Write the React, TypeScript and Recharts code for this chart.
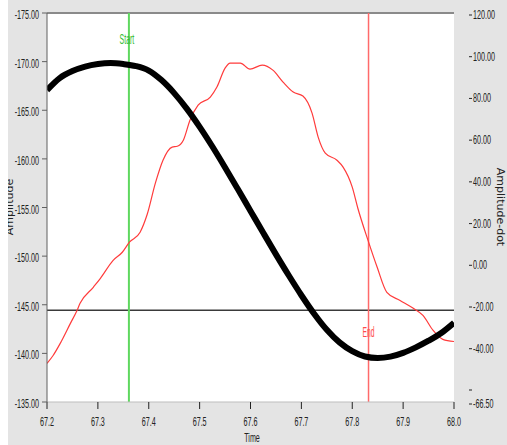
import React from 'react';
import { LineChart, Line, XAxis, YAxis, CartesianGrid, ReferenceLine } from 'recharts';

const timeTicks = [67.2, 67.3, 67.4, 67.5, 67.6, 67.7, 67.8, 67.9, 68.0];
const ampTicks = [-175, -170, -165, -160, -155, -150, -145, -140, -135];
const dotTicks = [120, 100, 80, 60, 40, 20, 0, -20, -40, -66.5];

// Amplitude (left axis)
const ampTime = [
  67.2, 67.225, 67.25, 67.275, 67.3, 67.325, 67.35, 67.375, 67.4, 67.425, 67.45,
  67.475, 67.5, 67.525, 67.55, 67.575, 67.6, 67.625, 67.65, 67.675, 67.7, 67.725,
  67.75, 67.775, 67.8, 67.825, 67.85, 67.875, 67.9, 67.925, 67.95, 67.975, 68.0,
];
const ampValues = [
  -167.07, -168.31, -169.03, -169.49, -169.75, -169.85, -169.75, -169.54, -169.08, -168.1, -166.76,
  -165.14, -163.29, -161.27, -159.12, -156.9, -154.65, -152.4, -150.18, -148.03, -145.98, -144.08,
  -142.43, -141.13, -140.23, -139.68, -139.52, -139.66, -140.05, -140.62, -141.3, -142.1, -143.15,
];

// Amplitude-dot (right axis)
const dotTime = [
  67.2, 67.212, 67.226, 67.246, 67.259, 67.265, 67.291, 67.305, 67.33, 67.348, 67.362,
  67.383, 67.397, 67.413, 67.428, 67.446, 67.456, 67.468, 67.481, 67.497, 67.521, 67.534,
  67.55, 67.56, 67.58, 67.599, 67.623, 67.644, 67.664, 67.684, 67.703, 67.721, 67.733,
  67.747, 67.77, 67.782, 67.8, 67.811, 67.831, 67.849, 67.868, 67.894, 67.92, 67.939,
  67.959, 67.978, 68.0,
];
const dotValues = [
  -48.0, -44.2, -38.4, -28.8, -22.6, -19.2, -11.5, -7.2, 1.4, 5.3, 10.1,
  14.9, 23.5, 38.4, 49.4, 55.7, 56.1, 59.0, 68.6, 75.8, 79.7, 84.5,
  93.6, 96.0, 96.0, 93.1, 95.0, 92.6, 86.9, 82.1, 80.2, 72.0, 60.5,
  52.8, 49.4, 46.1, 36.5, 26.4, 11.0, -1.9, -13.9, -17.8, -21.6, -25.0,
  -32.2, -36.5, -37.5,
];

const startTime = 67.361;
const endTime = 67.832;
const cursorLevel = -22.5;

const ampData = ampTime.map((t, i) => ({ time: t, amplitude: ampValues[i] }));
const dotData = dotTime.map((t, i) => ({ time: t, amplitudeDot: dotValues[i] }));

const condFont = '"Liberation Sans", Arial, sans-serif';
const titleFont = '"DejaVu Sans", Verdana, sans-serif';

// narrow LabVIEW-like text: regular sans squeezed horizontally
const CondText = ({ x, y, anchor = 'start', size = 12, sx = 0.6, fill = '#222', children }: any) => (
  <text
    transform={`translate(${x} ${y}) scale(${sx} 1)`}
    textAnchor={anchor}
    fontSize={size}
    fontFamily={condFont}
    fill={fill}
  >
    {children}
  </text>
);

const BottomTick = ({ x, y, payload }: any) => (
  <CondText x={x} y={y + 9} anchor="middle">
    {Number(payload.value).toFixed(1)}
  </CondText>
);

const LeftTick = ({ x, y, payload }: any) => (
  <CondText x={x} y={y + 6} anchor="end">
    {Number(payload.value).toFixed(2)}
  </CondText>
);

const RightTick = ({ x, y, payload }: any) => (
  <g>
    <line x1={x + 15} x2={x + 18} y1={y + 2} y2={y + 2} stroke="#222" strokeWidth={1} />
    {payload.value === -66.5 && (
      <line x1={x + 15} x2={x + 18} y1={y - 12} y2={y - 12} stroke="#222" strokeWidth={1} />
    )}
    <CondText x={x + 19} y={y + 6}>
      {Number(payload.value).toFixed(2)}
    </CondText>
  </g>
);

const StartLabel = ({ viewBox }: any) => (
  <CondText x={viewBox.x - 2} y={viewBox.y + 31} anchor="middle" size={14} sx={0.5} fill="#33bb33">
    Start
  </CondText>
);

const EndLabel = ({ viewBox }: any) => (
  <CondText x={viewBox.x} y={viewBox.y + viewBox.height - 65} anchor="middle" size={14} sx={0.48} fill="#ff4a4a">
    End
  </CondText>
);

export default function App() {
  return (
    <div style={{ position: 'fixed', left: 0, top: 0, width: 507, height: 445, background: '#fff', overflow: 'hidden' }}>
      <div style={{ position: 'absolute', left: 8, top: 0, width: 499, height: 445, background: '#e4e4e4' }} />
      <div style={{ position: 'absolute', left: 0, top: 0 }}>
        <LineChart width={507} height={445} margin={{ top: 13, right: 0, bottom: 13, left: 9 }}>
          <CartesianGrid horizontal={false} vertical={false} fill="#ffffff" />
          <XAxis
            dataKey="time"
            type="number"
            domain={[67.2, 68.0]}
            ticks={timeTicks}
            allowDataOverflow
            height={30}
            tickSize={7}
            tickMargin={8}
            stroke="#bdbdbd"
            tickLine={{ stroke: '#222' }}
            tick={<BottomTick />}
          />
          <YAxis
            yAxisId="left"
            orientation="left"
            domain={[-175, -135]}
            reversed
            ticks={ampTicks}
            allowDataOverflow
            width={38}
            tickSize={5}
            tickMargin={3}
            stroke="#606060"
            tick={<LeftTick />}
          />
          <YAxis
            yAxisId="right"
            orientation="right"
            domain={[-66.5, 120]}
            ticks={dotTicks}
            allowDataOverflow
            width={53}
            axisLine={false}
            tickLine={false}
            tickSize={0}
            tickMargin={0}
            tick={<RightTick />}
          />
          <ReferenceLine yAxisId="left" y={-175} stroke="#8a8a8a" strokeWidth={2} />
          <ReferenceLine yAxisId="right" y={cursorLevel} stroke="#3a3a3a" strokeWidth={1.5} />
          <ReferenceLine
            yAxisId="left"
            x={startTime}
            stroke="#5fd85f"
            strokeWidth={2}
            label={(p: any) => <StartLabel {...p} />}
          />
          <ReferenceLine
            yAxisId="left"
            x={endTime}
            stroke="#ff6a6a"
            strokeWidth={1.5}
            label={(p: any) => <EndLabel {...p} />}
          />
          <Line
            yAxisId="right"
            data={dotData}
            dataKey="amplitudeDot"
            type="monotone"
            stroke="#ff3b3b"
            strokeWidth={1.2}
            dot={false}
            isAnimationActive={false}
          />
          <Line
            yAxisId="left"
            data={ampData}
            dataKey="amplitude"
            type="monotone"
            stroke="#000"
            strokeWidth={6}
            dot={false}
            isAnimationActive={false}
          />
          <CondText x={252} y={442} anchor="middle" size={13} sx={0.55}>
            Time
          </CondText>
          <text
            x={13}
            y={207}
            textAnchor="middle"
            fontSize={11}
            fontFamily={titleFont}
            fill="#222"
            transform="rotate(-90 13 207)"
          >
            Amplitude
          </text>
          <text
            x={497}
            y={207}
            textAnchor="middle"
            fontSize={11}
            fontFamily={titleFont}
            fill="#222"
            transform="rotate(90 497 207)"
          >
            Amplitude-dot
          </text>
        </LineChart>
      </div>
      <div style={{ position: 'absolute', left: 0, top: 0, width: 8, height: 445, background: '#fff' }} />
    </div>
  );
}
